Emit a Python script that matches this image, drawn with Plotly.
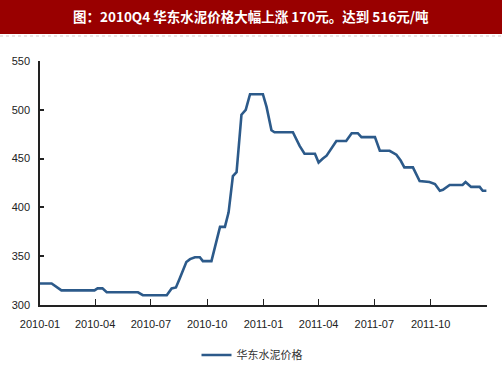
import plotly.graph_objects as go

dates = ["2010-01-01", "2010-01-20", "2010-02-05", "2010-03-31", "2010-04-05", "2010-04-13",
         "2010-04-20", "2010-06-10", "2010-06-18", "2010-07-27", "2010-08-04", "2010-08-11",
         "2010-08-17", "2010-08-28", "2010-09-03", "2010-09-11", "2010-09-19", "2010-09-24",
         "2010-10-08", "2010-10-15", "2010-10-22", "2010-10-30", "2010-11-05", "2010-11-12",
         "2010-11-18", "2010-11-26", "2010-12-03", "2010-12-10", "2010-12-31", "2011-01-06",
         "2011-01-14", "2011-01-19", "2011-02-18", "2011-03-01", "2011-03-09", "2011-03-26",
         "2011-04-01", "2011-04-08", "2011-04-14", "2011-04-30", "2011-05-16", "2011-05-25",
         "2011-06-04", "2011-06-10", "2011-07-02", "2011-07-10", "2011-07-26", "2011-08-06",
         "2011-08-13", "2011-08-19", "2011-09-02", "2011-09-13", "2011-09-29", "2011-10-08",
         "2011-10-16", "2011-10-21", "2011-11-01", "2011-11-22", "2011-11-27", "2011-12-06",
         "2011-12-20", "2011-12-25", "2011-12-31"]
prices = [322, 322, 315, 315, 317, 317,
          313, 313, 310, 310, 317, 318,
          327, 344, 347, 349, 349, 345,
          345, 362, 380, 380, 395, 432,
          436, 495, 500, 516, 516, 503,
          479, 477, 477, 463, 455, 455,
          446, 450, 453, 468, 468, 476,
          476, 472, 472, 458, 458, 454,
          448, 441, 441, 427, 426, 424,
          417, 418, 423, 423, 426, 421,
          421, 417, 417]

series_name = "华东水泥价格"
title_text = "图：2010Q4 华东水泥价格大幅上涨 170元。达到 516元/吨"
x_tick_vals = ["2010-01-01", "2010-04-01", "2010-07-01", "2010-10-01", "2011-01-01",
               "2011-04-01", "2011-07-01", "2011-10-01", "2012-01-01"]
x_tick_text = ["2010-01", "2010-04", "2010-07", "2010-10", "2011-01",
               "2011-04", "2011-07", "2011-10", ""]
y_tick_vals = [300, 350, 400, 450, 500, 550]

W, H = 502, 365
L, R, T, B = 40, 15, 61, 60
pw, ph = W - L - R, H - T - B

def px_x(x):
    return (x - L) / pw

def px_y(y):
    return (H - B - y) / ph

fig = go.Figure()
fig.add_trace(go.Scatter(x=dates, y=prices, mode="lines", name=series_name,
                         line=dict(color="#2C5A8A", width=2.6), showlegend=True))

fig.update_layout(
    width=W, height=H,
    margin=dict(l=L, r=R, t=T, b=B, autoexpand=False),
    paper_bgcolor="white", plot_bgcolor="white",
    font=dict(family="Liberation Sans, Arial, sans-serif", size=11, color="#222"),
    showlegend=True,
    legend=dict(orientation="h", x=px_x(252), xanchor="center", y=px_y(355), yanchor="middle",
                font=dict(family="Noto Sans CJK SC", size=11, color="#333"),
                bgcolor="rgba(0,0,0,0)"),
    xaxis=dict(type="date", range=["2010-01-01", "2012-01-01"],
               tickvals=x_tick_vals, ticktext=x_tick_text,
               ticks="inside", ticklen=6, tickcolor="#222", tickwidth=1,
               ticklabelstandoff=8,
               showline=True, linecolor="#222", linewidth=1.5,
               showgrid=False, zeroline=False, fixedrange=True),
    yaxis=dict(range=[300, 550], tickvals=y_tick_vals,
               ticks="inside", ticklen=4, tickcolor="#222", tickwidth=2,
               ticklabelstandoff=6,
               showline=True, linecolor="#222", linewidth=1.5,
               showgrid=False, zeroline=False, fixedrange=True),
    shapes=[
        dict(type="rect", xref="paper", yref="paper",
             x0=px_x(0), x1=px_x(W), y0=px_y(34), y1=px_y(0),
             fillcolor="#990000", line=dict(width=0), layer="above"),
        dict(type="line", xref="paper", yref="paper",
             x0=px_x(0), x1=px_x(W), y0=px_y(36), y1=px_y(36),
             line=dict(color="#d8c8c8", width=1, dash="dot")),
    ],
    annotations=[
        dict(text="<b>" + title_text + "</b>", xref="paper", yref="paper",
             x=px_x(251), y=px_y(16), xanchor="center", yanchor="middle",
             showarrow=False,
             font=dict(family="Noto Sans CJK SC", size=13.5, color="white")),
    ],
)

fig.write_html("out.html", config={"displayModeBar": False},
               post_script="document.body.style.margin='0';document.body.style.overflow='hidden';")
